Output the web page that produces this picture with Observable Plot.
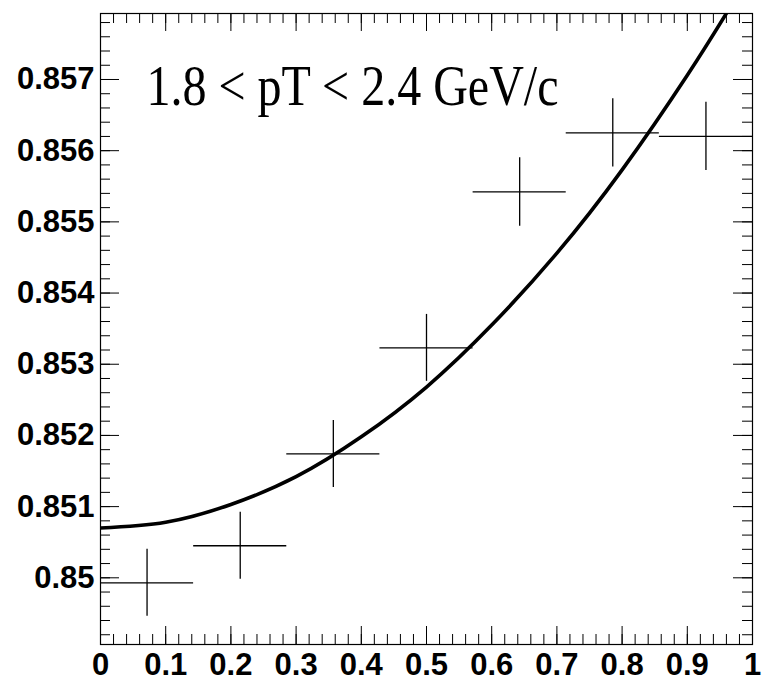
<!DOCTYPE html>
<html><head><meta charset="utf-8">
<script src="https://cdn.jsdelivr.net/npm/d3@7"></script>
<script src="https://cdn.jsdelivr.net/npm/@observablehq/plot@0.6"></script>
<style>html,body{margin:0;padding:0;background:#fff}</style>
</head><body><div id="chart"></div>
<script>
// ---- data ----
const binCenters   = [0.0714, 0.2143, 0.3571, 0.5, 0.6429, 0.7857, 0.9286];
const binHalfWidth = [0.0714, 0.0714, 0.0714, 0.0714, 0.0714, 0.0714, 0.0714];
const values       = [0.84993, 0.85045, 0.85174, 0.85323, 0.85542, 0.85625, 0.85620];
const errors       = [0.00047, 0.00047, 0.00047, 0.00047, 0.00048, 0.00048, 0.00048];

const fitX = [0, 0.1, 0.2, 0.3, 0.4, 0.5, 0.6, 0.7, 0.8, 0.9, 0.96];
const fitY = [0.85070, 0.85078, 0.85103, 0.85142, 0.85198, 0.85268, 0.85355, 0.85456, 0.85573, 0.85706, 0.85793];

const xTicks      = [0, 0.1, 0.2, 0.3, 0.4, 0.5, 0.6, 0.7, 0.8, 0.9, 1];
const xTickLabels = ["0", "0.1", "0.2", "0.3", "0.4", "0.5", "0.6", "0.7", "0.8", "0.9", "1"];
const yTicks      = [0.850, 0.851, 0.852, 0.853, 0.854, 0.855, 0.856, 0.857];
const yTickLabels = ["0.85", "0.851", "0.852", "0.853", "0.854", "0.855", "0.856", "0.857"];
const xDomain = [0, 1];
const yDomain = [0.849063, 0.857927];
const labelText = "1.8 < pT < 2.4 GeV/c";

// ---- build ----
const W = 762, H = 688, mL = 100, mR = 10, mT = 13, mB = 44;
const iw = W - mL - mR, ih = H - mT - mB;
const points = binCenters.map((x, i) => ({x, hw: binHalfWidth[i], y: values[i], e: errors[i]}));
const fit = fitX.map((x, i) => ({x, y: fitY[i]}));
const xMinor = d3.range(0, 51).map(i => i * 0.02).filter(v => v >= xDomain[0] && v <= xDomain[1]);
const yMinor = d3.range(0, 46).map(i => 0.849 + i * 0.0002).filter(v => v >= yDomain[0] && v <= yDomain[1]);
const xLab = new Map(xTicks.map((t, i) => [t, xTickLabels[i]]));
const yLab = new Map(yTicks.map((t, i) => [t, yTickLabels[i]]));
const axisFont = "Liberation Sans, Arial, Helvetica, sans-serif";

const svg = Plot.plot({
  width: W, height: H,
  marginLeft: mL, marginRight: mR, marginTop: mT, marginBottom: mB,
  style: {fontFamily: axisFont, background: "#fff", color: "#000"},
  x: {domain: xDomain, axis: null},
  y: {domain: yDomain, axis: null},
  marks: [
    // inward ticks, ROOT style
    Plot.tickY(yTicks, {y: d => d, insetRight: iw - 19, stroke: "#000", strokeWidth: 1}),
    Plot.tickY(yMinor, {y: d => d, insetRight: iw - 10, stroke: "#000", strokeWidth: 1}),
    Plot.tickY(yTicks, {y: d => d, insetLeft: iw - 19, stroke: "#000", strokeWidth: 1}),
    Plot.tickY(yMinor, {y: d => d, insetLeft: iw - 10, stroke: "#000", strokeWidth: 1}),
    Plot.tickX(xTicks, {x: d => d, insetTop: ih - 18, stroke: "#000", strokeWidth: 1}),
    Plot.tickX(xMinor, {x: d => d, insetTop: ih - 10, stroke: "#000", strokeWidth: 1}),
    Plot.tickX(xTicks, {x: d => d, insetBottom: ih - 18, stroke: "#000", strokeWidth: 1}),
    Plot.tickX(xMinor, {x: d => d, insetBottom: ih - 10, stroke: "#000", strokeWidth: 1}),
    // data crosses
    Plot.ruleY(points, {y: "y", x1: d => d.x - d.hw, x2: d => d.x + d.hw, stroke: "#000", strokeWidth: 1.3}),
    Plot.ruleX(points, {x: "x", y1: d => d.y - d.e, y2: d => d.y + d.e, stroke: "#000", strokeWidth: 1.3}),
    // fit curve
    Plot.line(fit, {x: "x", y: "y", curve: "natural", stroke: "#000", strokeWidth: 3.6, clip: true}),
    Plot.frame({stroke: "#000", strokeWidth: 1.2}),
    // axis labels
    Plot.axisY(yTicks, {anchor: "left", label: null, tickSize: 0, tickPadding: 6, tickFormat: d => yLab.get(d),
      fontSize: 31, fontWeight: "bold", fontFamily: axisFont}),
    Plot.axisX(xTicks, {anchor: "bottom", label: null, tickSize: 0, tickPadding: 8, tickFormat: d => xLab.get(d),
      fontSize: 31, fontWeight: "bold", fontFamily: axisFont}),
    // annotation
    Plot.text([labelText], {frameAnchor: "top-left", dx: 46, dy: 91, lineAnchor: "bottom", textAnchor: "start",
      fontSize: 57, fontFamily: "Liberation Serif, Times New Roman, serif", fill: "#000"})
  ]
});
document.getElementById("chart").appendChild(svg);
d3.select(svg).selectAll("text").filter(function () { return this.textContent === labelText; })
  .attr("textLength", 412).attr("lengthAdjust", "spacingAndGlyphs");
</script>
</body></html>
